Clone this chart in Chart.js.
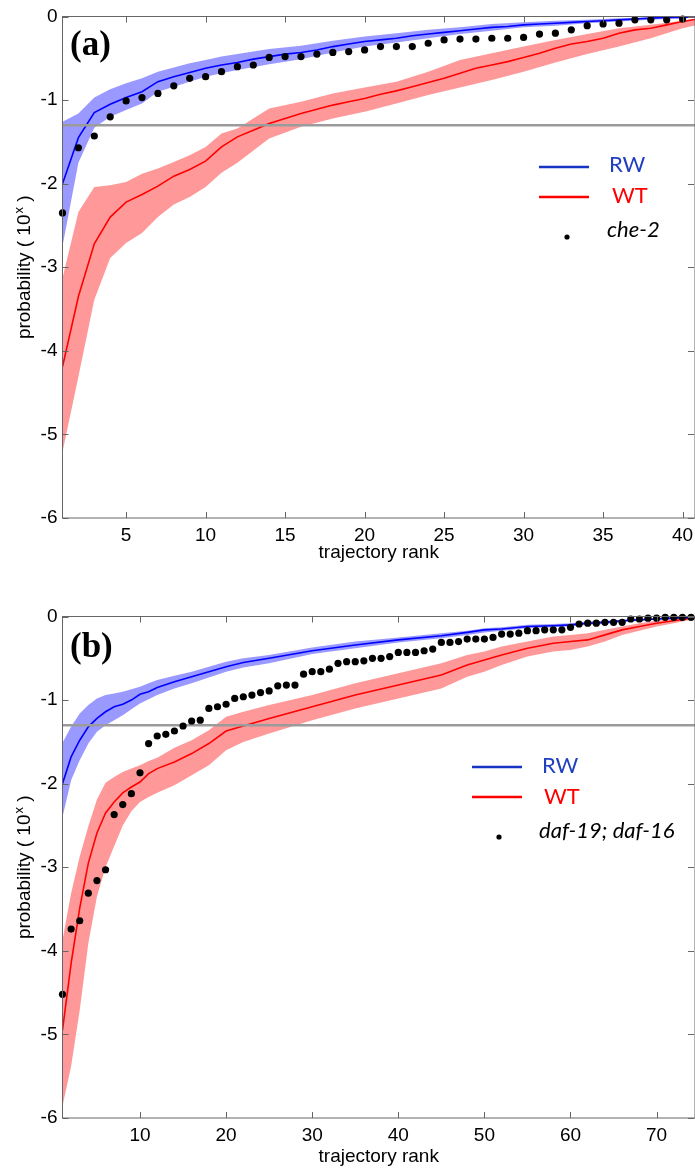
<!DOCTYPE html>
<html>
<head>
<meta charset="utf-8">
<script src="https://cdn.jsdelivr.net/npm/chart.js@4.4.1/dist/chart.umd.min.js"></script>
<style>
  html, body { margin: 0; padding: 0; background: #fff; }
  body { width: 695px; height: 1170px; position: relative; overflow: hidden; }
  canvas { position: absolute; left: 0; }
  #chart-a { top: 0; }
  #chart-b { top: 580px; }
</style>
</head>
<body>
<canvas id="chart-a" width="695" height="570"></canvas>
<canvas id="chart-b" width="695" height="590"></canvas>
<script>
// ---- shared ----
const yTicks = [0, -1, -2, -3, -4, -5, -6];
const thresholdLog = -1.301;   // log10(0.05)

// ---- panel (a): che-2 ----
const ranksA = [1,2,3,4,5,6,7,8,9,10,11,12,13,14,15,16,17,18,19,20,21,22,23,24,25,26,27,28,29,30,31,32,33,34,35,36,37,38,39,40];
const che2 = [-2.35,-1.57,-1.43,-1.20,-1.01,-0.97,-0.92,-0.83,-0.74,-0.72,-0.66,-0.60,-0.58,-0.49,-0.48,-0.48,-0.45,-0.43,-0.42,-0.40,
              -0.36,-0.36,-0.36,-0.32,-0.28,-0.27,-0.27,-0.26,-0.26,-0.25,-0.21,-0.20,-0.16,-0.11,-0.09,-0.08,-0.04,-0.04,-0.04,-0.03];
const lineRanksA = [1,2,3,4,5,6,7,8,9,10,11,12,13,14,15,16,17,18,19,20,21,22,23,24,25,26,27,28,29,30,31,32,33,34,35,36,37,38,39,40,41];
const rwA = [-2.00,-1.45,-1.15,-1.05,-0.97,-0.90,-0.78,-0.72,-0.67,-0.62,-0.58,-0.55,-0.51,-0.48,-0.45,-0.43,-0.40,-0.36,-0.33,-0.30,
             -0.28,-0.26,-0.23,-0.21,-0.19,-0.17,-0.15,-0.13,-0.12,-0.10,-0.09,-0.08,-0.07,-0.06,-0.05,-0.04,-0.03,-0.02,-0.01,-0.01,0.00];
const wtA = [-4.19,-3.35,-2.72,-2.40,-2.22,-2.13,-2.03,-1.91,-1.83,-1.73,-1.56,-1.44,-1.36,-1.28,-1.22,-1.16,-1.11,-1.06,-1.02,-0.98,
             -0.93,-0.89,-0.84,-0.79,-0.74,-0.68,-0.62,-0.58,-0.54,-0.49,-0.44,-0.38,-0.33,-0.30,-0.26,-0.20,-0.16,-0.14,-0.10,-0.06,-0.03];
const bandRanksA = [1,2,3,4,5,6,7,8,9,10,11,12,14,16,18,20,22,24,26,28,30,32,34,36,38,40,41];
const rwHiA = [-1.26,-1.16,-0.97,-0.87,-0.80,-0.74,-0.66,-0.61,-0.56,-0.52,-0.48,-0.45,-0.39,-0.35,-0.29,-0.24,-0.20,-0.16,-0.13,-0.09,-0.07,-0.05,-0.04,-0.02,-0.01,0,0];
const rwLoA = [-2.75,-1.75,-1.33,-1.20,-1.12,-1.04,-0.90,-0.84,-0.78,-0.72,-0.68,-0.64,-0.57,-0.51,-0.43,-0.36,-0.31,-0.26,-0.21,-0.17,-0.13,-0.11,-0.08,-0.06,-0.04,-0.02,-0.01];
const wtHiA = [-3.13,-2.34,-2.04,-2.02,-1.98,-1.88,-1.82,-1.74,-1.66,-1.56,-1.40,-1.34,-1.10,-1.02,-0.92,-0.85,-0.78,-0.66,-0.52,-0.44,-0.36,-0.28,-0.21,-0.14,-0.10,-0.05,-0.02];
const wtLoA = [-5.21,-4.31,-3.39,-2.89,-2.71,-2.59,-2.40,-2.25,-2.16,-2.04,-1.87,-1.75,-1.46,-1.32,-1.22,-1.14,-1.04,-0.94,-0.85,-0.76,-0.66,-0.55,-0.45,-0.36,-0.26,-0.14,-0.10];
const xTicksA = [5, 10, 15, 20, 25, 30, 35, 40];

// ---- panel (b): daf-19; daf-16 ----
const ranksB = [1,2,3,4,5,6,7,8,9,10,11,12,13,14,15,16,17,18,19,20,21,22,23,24,25,26,27,28,29,30,31,32,33,34,35,36,37,
                38,39,40,41,42,43,44,45,46,47,48,49,50,51,52,53,54,55,56,57,58,59,60,61,62,63,64,65,66,67,68,69,70,71,72,73,74];
const daf = [-4.52,-3.74,-3.64,-3.31,-3.16,-3.03,-2.37,-2.25,-2.12,-1.87,-1.52,-1.43,-1.41,-1.37,-1.31,-1.25,-1.24,-1.10,-1.08,-1.05,
             -0.98,-0.96,-0.94,-0.91,-0.89,-0.83,-0.82,-0.82,-0.69,-0.66,-0.66,-0.63,-0.56,-0.54,-0.54,-0.53,-0.50,-0.50,-0.48,-0.43,
             -0.43,-0.43,-0.41,-0.39,-0.31,-0.31,-0.30,-0.27,-0.27,-0.27,-0.25,-0.21,-0.21,-0.20,-0.17,-0.17,-0.16,-0.16,-0.16,-0.13,
             -0.09,-0.08,-0.08,-0.07,-0.07,-0.07,-0.03,-0.03,-0.02,-0.02,-0.01,-0.01,-0.01,-0.01];
const bandRanksB = [1,2,3,4,5,6,7,8,9,10,11,12,14,16,18,20,22,25,30,35,40,45,48,50,52,55,58,60,62,64,66,68,70,72,74,75];
const rwB = [-2.00,-1.68,-1.48,-1.32,-1.22,-1.14,-1.08,-1.05,-1.00,-0.93,-0.90,-0.85,-0.78,-0.72,-0.66,-0.60,-0.55,-0.50,
             -0.41,-0.34,-0.28,-0.23,-0.19,-0.16,-0.15,-0.12,-0.11,-0.10,-0.08,-0.07,-0.05,-0.04,-0.03,-0.02,-0.01,-0.005];
const rwHiB = [-1.51,-1.32,-1.16,-1.06,-0.98,-0.94,-0.92,-0.90,-0.87,-0.84,-0.80,-0.76,-0.71,-0.66,-0.60,-0.54,-0.50,-0.46,
               -0.37,-0.30,-0.25,-0.20,-0.17,-0.14,-0.13,-0.10,-0.09,-0.08,-0.06,-0.05,-0.04,-0.03,-0.02,-0.01,0,0];
const rwLoB = [-2.40,-1.96,-1.72,-1.52,-1.38,-1.30,-1.24,-1.18,-1.11,-1.04,-0.99,-0.94,-0.86,-0.80,-0.73,-0.66,-0.61,-0.56,
               -0.45,-0.38,-0.31,-0.26,-0.22,-0.19,-0.17,-0.14,-0.13,-0.12,-0.10,-0.09,-0.07,-0.05,-0.04,-0.03,-0.02,-0.01];
const wtB = [-4.95,-4.15,-3.49,-2.95,-2.59,-2.35,-2.22,-2.11,-2.04,-1.98,-1.88,-1.82,-1.74,-1.64,-1.52,-1.37,-1.31,-1.22,
             -1.08,-0.94,-0.82,-0.70,-0.58,-0.52,-0.46,-0.38,-0.32,-0.30,-0.28,-0.22,-0.16,-0.12,-0.08,-0.05,-0.02,-0.01];
const wtHiB = [-3.87,-3.31,-2.87,-2.51,-2.19,-1.99,-1.92,-1.86,-1.82,-1.78,-1.73,-1.69,-1.57,-1.48,-1.36,-1.20,-1.14,-1.06,
               -0.94,-0.80,-0.68,-0.56,-0.46,-0.42,-0.36,-0.30,-0.24,-0.22,-0.20,-0.16,-0.12,-0.08,-0.05,-0.03,-0.01,0];
const wtLoB = [-5.86,-5.38,-4.71,-3.91,-3.35,-3.00,-2.75,-2.50,-2.33,-2.22,-2.16,-2.11,-2.02,-1.90,-1.78,-1.60,-1.50,-1.40,
               -1.24,-1.10,-0.98,-0.86,-0.72,-0.66,-0.58,-0.48,-0.42,-0.40,-0.36,-0.30,-0.22,-0.17,-0.12,-0.08,-0.04,-0.02];
const xTicksB = [10, 20, 30, 40, 50, 60, 70];

// ---- helpers ----
const sans = "'Liberation Sans', Arial, sans-serif";
const BLUE = '#0000ff', RED = '#ff0000';

function pts(xs, ys) {
    return ys.map((y, i) => ({ x: xs[i], y: y }));
}

function band(xs, lo, hi, color) {
    return [
        { data: pts(xs, lo), borderWidth: 0, borderColor: 'transparent', pointRadius: 0, fill: false, order: 3 },
        { data: pts(xs, hi), borderWidth: 0, borderColor: 'transparent', pointRadius: 0, fill: '-1', backgroundColor: color, order: 3 }
    ];
}

function line(xs, ys, color) {
    return { data: pts(xs, ys), borderColor: color, borderWidth: 1.6, pointRadius: 0, tension: 0, fill: false, order: 2 };
}

// frame, titles, panel letter and legend
function decor(cfg) {
    return {
        id: 'decor',
        afterDatasetsDraw(chart) {
            const { ctx, chartArea: a, scales: { x, y } } = chart;
            ctx.save();
            ctx.strokeStyle = '#666';
            ctx.lineWidth = 1;
            ctx.strokeRect(Math.floor(a.left) + 0.5, Math.floor(a.top) + 0.5, a.right - a.left, a.bottom - a.top);
            ctx.beginPath();
            cfg.xTicks.forEach(v => {
                const px = Math.round(x.getPixelForValue(v)) + 0.5;
                ctx.moveTo(px, a.bottom); ctx.lineTo(px, a.bottom - 6);
                ctx.moveTo(px, a.top); ctx.lineTo(px, a.top + 6);
            });
            yTicks.forEach(v => {
                const py = Math.round(y.getPixelForValue(v)) + 0.5;
                ctx.moveTo(a.left, py); ctx.lineTo(a.left + 6, py);
                ctx.moveTo(a.right - 1, py); ctx.lineTo(a.right - 7, py);
            });
            ctx.stroke();
            ctx.restore();
        },
        afterDraw(chart) {
            const { ctx, chartArea: a } = chart;
            ctx.save();
            ctx.fillStyle = '#000';

            // x title
            ctx.font = '19px ' + sans;
            ctx.textAlign = 'center';
            ctx.textBaseline = 'middle';
            ctx.fillText('trajectory rank', (a.left + a.right) / 2, cfg.xTitleY);

            // y title with superscript
            const p1 = 'probability ( 10', sup = 'x', p2 = ' )';
            ctx.font = '19px ' + sans;
            const w1 = ctx.measureText(p1).width, w3 = ctx.measureText(p2).width;
            ctx.font = '13px ' + sans;
            const w2 = ctx.measureText(sup).width + 1;
            const total = w1 + w2 + w3;
            ctx.translate(25, (a.top + a.bottom) / 2);
            ctx.rotate(-Math.PI / 2);
            ctx.textAlign = 'left';
            ctx.textBaseline = 'middle';
            ctx.font = '19px ' + sans;
            ctx.fillText(p1, -total / 2, 0);
            ctx.fillText(p2, -total / 2 + w1 + w2, 0);
            ctx.font = '13px ' + sans;
            ctx.fillText(sup, -total / 2 + w1 + 1, -6);
            ctx.setTransform(1, 0, 0, 1, 0, 0);

            // panel letter
            ctx.font = "bold 35px 'Liberation Serif', 'Times New Roman', serif";
            ctx.textAlign = 'left';
            ctx.textBaseline = 'alphabetic';
            ctx.fillText(cfg.letter, 70, cfg.letterY);

            // legend
            const L = cfg.legend;
            ctx.lineWidth = 2.5;
            ctx.strokeStyle = '#1533c4';
            ctx.beginPath(); ctx.moveTo(L.x0, L.rwY); ctx.lineTo(L.x0 + 50, L.rwY); ctx.stroke();
            ctx.strokeStyle = RED;
            ctx.beginPath(); ctx.moveTo(L.x0, L.wtY); ctx.lineTo(L.x0 + 50, L.wtY); ctx.stroke();
            ctx.fillStyle = '#000';
            ctx.beginPath(); ctx.arc(L.dotX, L.dotY, 2.6, 0, Math.PI * 2); ctx.fill();

            ctx.font = "22px Lato, 'Open Sans', sans-serif";
            ctx.fillStyle = '#1f3fc0';
            ctx.fillText('RW', L.rwTextX, L.rwBase);
            ctx.fillStyle = RED;
            ctx.fillText('WT', L.wtTextX, L.wtBase);
            ctx.fillStyle = '#000';
            ctx.font = "italic 22px Lato, 'Open Sans', sans-serif";
            ctx.fillText(cfg.mutant, L.mTextX, L.mBase);
            ctx.restore();
        }
    };
}

function makeChart(id, cfg) {
    const tickFont = { family: sans, size: 19 };
    return new Chart(document.getElementById(id), {
        type: 'line',
        data: {
            datasets: [
                { data: pts(cfg.dotX, cfg.dotY), showLine: false, pointRadius: 3.6, pointBackgroundColor: '#000',
                  pointBorderWidth: 0, borderColor: '#000', clip: false, order: 0 },
                { data: pts([1, cfg.xMax], [thresholdLog, thresholdLog]), borderColor: '#9b9b9b', borderWidth: 2.6,
                  pointRadius: 0, fill: false, order: 1 },
                line(cfg.lineX, cfg.rw, BLUE),
                line(cfg.lineX, cfg.wt, RED),
                ...band(cfg.bandX, cfg.rwLo, cfg.rwHi, 'rgba(0,0,255,0.4)'),
                ...band(cfg.bandX, cfg.wtLo, cfg.wtHi, 'rgba(255,0,0,0.4)')
            ]
        },
        options: {
            responsive: false,
            animation: false,
            events: [],
            layout: { autoPadding: false, padding: { top: cfg.padTop, right: 0, bottom: 0, left: 0 } },
            plugins: { legend: { display: false }, tooltip: { enabled: false } },
            scales: {
                x: {
                    type: 'linear', min: 1, max: cfg.xMax,
                    grid: { display: false, drawTicks: false },
                    border: { display: false },
                    afterBuildTicks: s => { s.ticks = cfg.xTicks.map(v => ({ value: v })); },
                    afterFit: s => { s.height = 52; s.paddingLeft = 0; s.paddingRight = 0; },
                    ticks: { font: tickFont, color: '#000', padding: 6, maxRotation: 0, autoSkip: false, callback: v => String(v) }
                },
                y: {
                    type: 'linear', min: -6, max: 0,
                    grid: { display: false, drawTicks: false },
                    border: { display: false },
                    afterBuildTicks: s => { s.ticks = yTicks.map(v => ({ value: v })); },
                    afterFit: s => { s.width = 62.5; },
                    ticks: { font: tickFont, color: '#000', padding: 5, autoSkip: false, callback: v => String(v) }
                }
            }
        },
        plugins: [decor(cfg)]
    });
}

makeChart('chart-a', {
    dotX: ranksA, dotY: che2,
    lineX: lineRanksA, rw: rwA, wt: wtA,
    bandX: bandRanksA, rwLo: rwLoA, rwHi: rwHiA, wtLo: wtLoA, wtHi: wtHiA,
    xMax: 40.78, xTicks: xTicksA, padTop: 16.5,
    xTitleY: 553, letter: '(a)', letterY: 55, mutant: 'che-2',
    legend: { x0: 539, rwY: 167, wtY: 197, dotX: 567, dotY: 237,
              rwTextX: 609, rwBase: 172, wtTextX: 612, wtBase: 203, mTextX: 607, mBase: 237 }
});

makeChart('chart-b', {
    dotX: ranksB, dotY: daf,
    lineX: bandRanksB, rw: rwB, wt: wtB,
    bandX: bandRanksB, rwLo: rwLoB, rwHi: rwHiB, wtLo: wtLoB, wtHi: wtHiB,
    xMax: 74.46, xTicks: xTicksB, padTop: 36.5,
    xTitleY: 577, letter: '(b)', letterY: 77, mutant: 'daf-19; daf-16',
    legend: { x0: 472, rwY: 187, wtY: 217, dotX: 499, dotY: 257,
              rwTextX: 542, rwBase: 193, wtTextX: 544, wtBase: 224, mTextX: 539, mBase: 258 }
});
</script>
</body>
</html>
